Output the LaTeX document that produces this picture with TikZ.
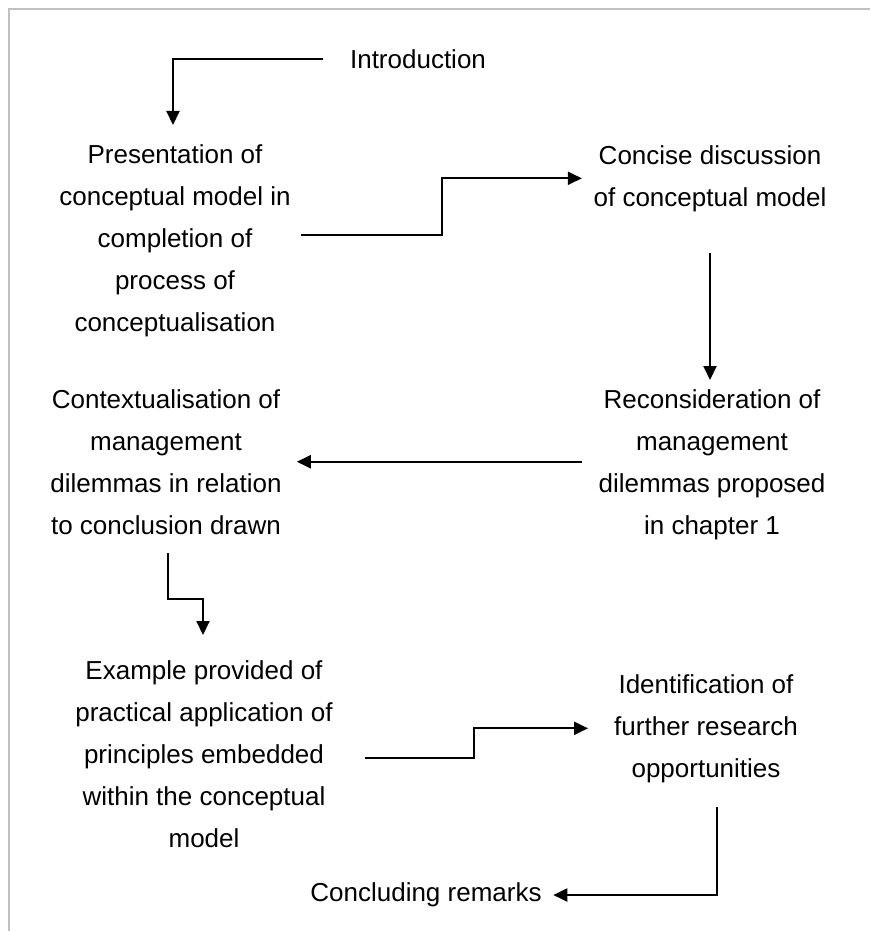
\documentclass[tikz,border=0pt]{standalone}
\usepackage{fontspec}
\setmainfont{Liberation Sans}
\usetikzlibrary{arrows.meta,calc}
\definecolor{framegray}{RGB}{192,192,192}
\tikzset{
  lbl/.style={inner sep=0pt, align=center, font=\fontsize{26pt}{42pt}\selectfont},
  arr/.style={draw=black, line width=2pt, -{Triangle[length=14pt,width=13pt]}}
}
\begin{document}
\begin{tikzpicture}[x=1pt,y=-1pt]
\useasboundingbox (0,0) rectangle (870,931);
\fill[white] (0,0) rectangle (870,931);
\draw[framegray, line width=2pt] (9,931) -- (9,9) -- (870,9);

\node[lbl] (intro) at (418,59) {Introduction};
\node[lbl, anchor=north] (pres) at (175,144) {Presentation of\\conceptual model in\\completion of\\process of\\conceptualisation};
\node[lbl, anchor=north] (conc) at (710,145) {Concise discussion\\of conceptual model};
\node[lbl, anchor=north] (recon) at (712,389) {Reconsideration of\\management\\dilemmas proposed\\in chapter 1};
\node[lbl, anchor=north] (ctx) at (166,389) {Contextualisation of\\management\\dilemmas in relation\\to conclusion drawn};
\node[lbl, anchor=north] (ex) at (204,660) {Example provided of\\practical application of\\principles embedded\\within the conceptual\\model};
\node[lbl, anchor=north] (ident) at (706,674) {Identification of\\further research\\opportunities};
\node[lbl] (concl) at (426,895) {Concluding remarks};

\draw[arr] ([xshift=-27pt]intro.west) -| ($(pres.north)+(-2,-19)$);
\draw[arr] ($(pres.east)+(10,-5)$) -- ++(141.5,0) |- ($(conc.west)+(-11.6,0)$);
\draw[arr] ($(conc.south)+(0,41.5)$) -- ($(conc.south |- recon.north)+(0,-9)$);
\draw[arr] ($(recon.west |- ctx.east)+(-16,0)$) -- ($(ctx.east)+(15,0)$);
\draw[arr] ($(ctx.south)+(2,19)$) -- ++(0,45) -| ($(ex.north)+(-1,-25)$);
\draw[arr] ($(ex.east)+(32,4.5)$) -- ++(109,0) |- ($(ident.west)+(-26,0)$);
\draw[arr] ($(ident.south)+(11,24.5)$) |- ($(concl.east)+(11.5,0)$);
\end{tikzpicture}
\end{document}
